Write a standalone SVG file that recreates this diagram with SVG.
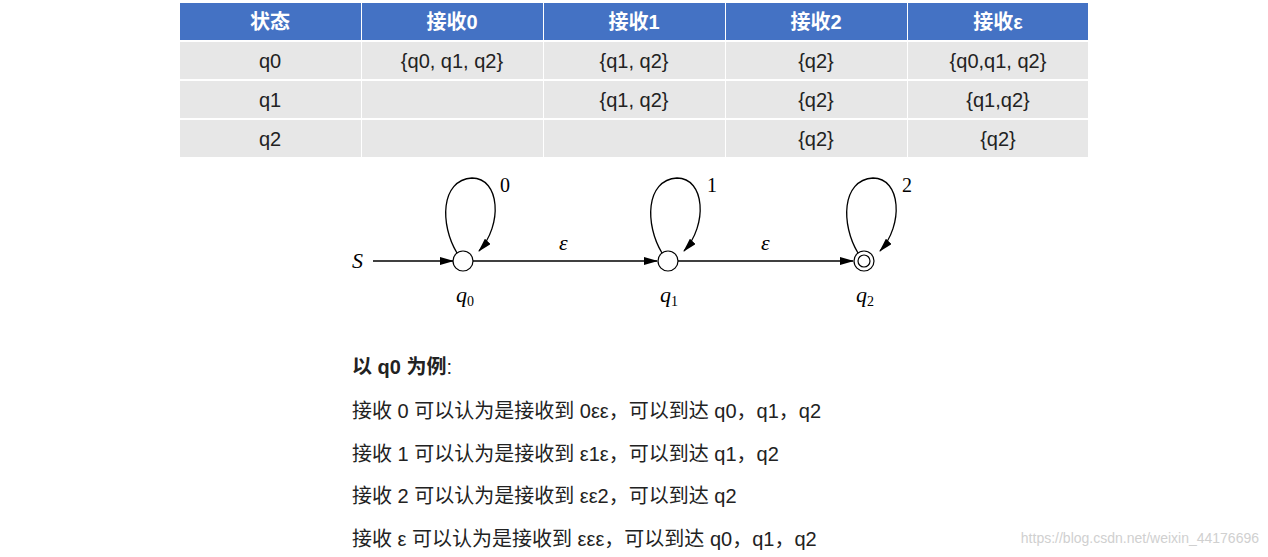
<svg xmlns="http://www.w3.org/2000/svg" width="1268" height="557" viewBox="0 0 1268 557">
<style>
.h{fill:#4472C4}.c{fill:#E7E7E7}
.ht{font-family:"Liberation Sans","Noto Sans CJK SC",sans-serif;font-size:20px;font-weight:bold;fill:#fff;text-anchor:middle}
.ct{font-family:"Liberation Sans","Noto Sans CJK SC",sans-serif;font-size:20px;fill:#222;text-anchor:middle}
.st{fill:#fff;stroke:#000;stroke-width:1.2}
.ln{fill:none;stroke:#000;stroke-width:1.3}
.gt{font-family:"Liberation Serif",serif;font-size:22px;font-style:italic;fill:#000}
.gn{font-family:"Liberation Serif",serif;font-size:20px;fill:#000}
.tx{font-family:"Liberation Sans","Noto Sans CJK SC",sans-serif;font-size:20px;fill:#222}
</style>
<defs><marker id="a" markerWidth="14" markerHeight="8" refX="13" refY="4" orient="auto" markerUnits="userSpaceOnUse"><path d="M0,0 L14,4 L0,8 Z" fill="#000"/></marker></defs>
<g id="table">
<rect class="h" x="180" y="3" width="181" height="37"/><rect class="h" x="362" y="3" width="181" height="37"/><rect class="h" x="544" y="3" width="181" height="37"/><rect class="h" x="726" y="3" width="181" height="37"/><rect class="h" x="908" y="3" width="180" height="37"/>
<text class="ht" x="270" y="29">状态</text><text class="ht" x="452" y="29">接收0</text><text class="ht" x="634" y="29">接收1</text><text class="ht" x="816" y="29">接收2</text><text class="ht" x="998" y="29">接收ε</text>
<g class="c">
<rect x="180" y="42" width="181" height="37"/><rect x="362" y="42" width="181" height="37"/><rect x="544" y="42" width="181" height="37"/><rect x="726" y="42" width="181" height="37"/><rect x="908" y="42" width="180" height="37"/>
<rect x="180" y="81" width="181" height="37"/><rect x="362" y="81" width="181" height="37"/><rect x="544" y="81" width="181" height="37"/><rect x="726" y="81" width="181" height="37"/><rect x="908" y="81" width="180" height="37"/>
<rect x="180" y="120" width="181" height="37"/><rect x="362" y="120" width="181" height="37"/><rect x="544" y="120" width="181" height="37"/><rect x="726" y="120" width="181" height="37"/><rect x="908" y="120" width="180" height="37"/>
</g>
<text class="ct" x="270" y="68">q0</text><text class="ct" x="452" y="68">{q0, q1, q2}</text><text class="ct" x="634" y="68">{q1, q2}</text><text class="ct" x="816" y="68">{q2}</text><text class="ct" x="998" y="68">{q0,q1, q2}</text>
<text class="ct" x="270" y="107">q1</text><text class="ct" x="634" y="107">{q1, q2}</text><text class="ct" x="816" y="107">{q2}</text><text class="ct" x="998" y="107">{q1,q2}</text>
<text class="ct" x="270" y="146">q2</text><text class="ct" x="816" y="146">{q2}</text><text class="ct" x="998" y="146">{q2}</text>
</g>
<g id="connectors">
<line class="ln" x1="373" y1="261" x2="453" y2="261" marker-end="url(#a)"/>
<line class="ln" x1="473" y1="261" x2="657" y2="261" marker-end="url(#a)"/>
<line class="ln" x1="678" y1="261" x2="853" y2="261" marker-end="url(#a)"/>
<path class="ln" d="M457,253 C440,225 440,180 472,178 C500,178 503,225 479,251" marker-end="url(#a)"/>
<path class="ln" d="M662,253 C645,225 645,180 677,178 C705,178 708,225 684,251" marker-end="url(#a)"/>
<path class="ln" d="M858,253 C841,225 841,180 873,178 C901,178 904,225 880,251" marker-end="url(#a)"/>
<text class="gn" x="500" y="192">0</text><text class="gn" x="707" y="192">1</text><text class="gn" x="902" y="192">2</text>
<text class="gt" x="559" y="250">ε</text><text class="gt" x="761" y="250">ε</text>
<text class="gt" x="352" y="268">S</text>
</g>
<g id="q0"><circle class="st" cx="463" cy="261" r="10"/><text class="gt" x="456" y="302">q<tspan font-size="14" font-style="normal" dy="4">0</tspan></text></g>
<g id="q1"><circle class="st" cx="668" cy="261" r="10"/><text class="gt" x="660" y="302">q<tspan font-size="14" font-style="normal" dy="4">1</tspan></text></g>
<g id="q2"><circle class="st" cx="864" cy="261" r="10"/><circle class="st" cx="864" cy="261" r="6"/><text class="gt" x="856" y="302">q<tspan font-size="14" font-style="normal" dy="4">2</tspan></text></g>
<g id="notes">
<text class="tx" x="352" y="374" font-weight="bold">以 q0 为例<tspan font-weight="normal">:</tspan></text>
<text class="tx" x="352" y="418">接收 0 可以认为是接收到 0εε，可以到达 q0，q1，q2</text>
<text class="tx" x="352" y="461">接收 1 可以认为是接收到 ε1ε，可以到达 q1，q2</text>
<text class="tx" x="352" y="503">接收 2 可以认为是接收到 εε2，可以到达 q2</text>
<text class="tx" x="352" y="546">接收 ε 可以认为是接收到 εεε，可以到达 q0，q1，q2</text>
<text x="1259" y="543" text-anchor="end" font-family="Liberation Sans,sans-serif" font-size="14" fill="#d0d0d0">https://blog.csdn.net/weixin_44176696</text>
</g>
</svg>
